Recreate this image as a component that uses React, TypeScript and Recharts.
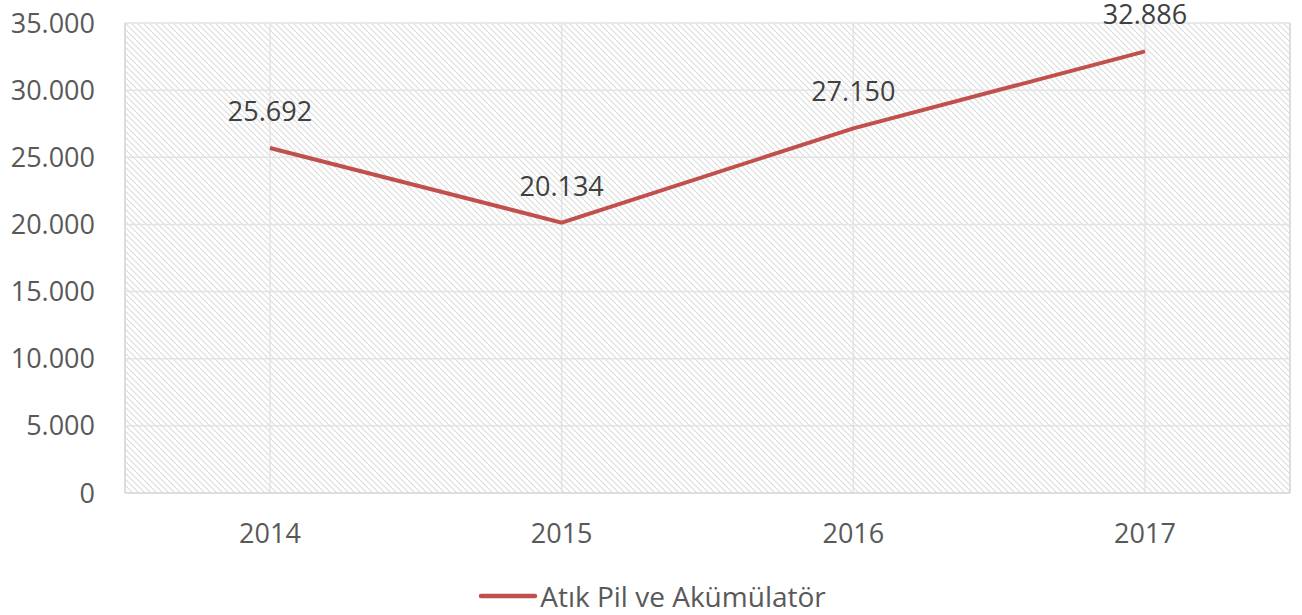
import { LineChart, Line, XAxis, YAxis, CartesianGrid, Legend, LabelList } from "recharts"

// ---- data ----
const years = ["2014", "2015", "2016", "2017"]
const values = [25692, 20134, 27150, 32886]
const yTicks = [0, 5000, 10000, 15000, 20000, 25000, 30000, 35000]
const seriesName = "Atık Pil ve Akümülatör"

const data = years.map((year, i) => ({ year, value: values[i] }))

const LINE_COLOR = "#c0504d"
const TEXT_COLOR = "#595959"
const FONT = "'Open Sans', 'DejaVu Sans', sans-serif"
const FONT_SIZE = 27

// Turkish style thousand separator: 35000 -> 35.000
const fmt = (v: number) => String(v).replace(/\B(?=(\d{3})+(?!\d))/g, ".")

function LegendContent() {
  return (
    <div style={{ display: "flex", justifyContent: "center", alignItems: "center", paddingTop: 12, paddingLeft: 14 }}>
      <svg width={60} height={10} style={{ marginRight: 2 }}>
        <line x1={3} y1={5} x2={57} y2={5} stroke={LINE_COLOR} strokeWidth={4.5} strokeLinecap="round" />
      </svg>
      <span style={{ fontFamily: FONT, fontSize: 28, color: TEXT_COLOR }}>{seriesName}</span>
    </div>
  )
}

// left/right edges of the plot area, so the plot gets a full frame
const plotEdges = ({ offset }: any) => [offset.left, offset.left + offset.width]

export default function App() {
  return (
    <div style={{ position: "absolute", left: 0, top: 0, width: 1302, height: 615, background: "#fff" }}>
      {/* hatch pattern shared by the plot background */}
      <svg width={0} height={0} style={{ position: "absolute" }}>
        <defs>
          <pattern id="hatch" width={6} height={6} patternUnits="userSpaceOnUse">
            <path d="M0,0 L6,6 M-1,5 L1,7 M5,-1 L7,1" stroke="#dcdcdc" strokeWidth={1.2} />
          </pattern>
        </defs>
      </svg>
      <LineChart width={1302} height={615} data={data} margin={{ top: 23, right: 12, left: 0, bottom: 0 }}>
        <CartesianGrid stroke="#e3e3e3" strokeWidth={1.5} fill="url(#hatch)" fillOpacity={1} />
        <CartesianGrid
          stroke="#d9d9d9"
          strokeWidth={1.5}
          horizontal={false}
          verticalCoordinatesGenerator={plotEdges}
        />
        <XAxis
          dataKey="year"
          padding={{ left: 145, right: 145 }}
          height={72}
          tickLine={false}
          axisLine={{ stroke: "#d9d9d9", strokeWidth: 1.5 }}
          tickMargin={25}
          tick={{ fill: TEXT_COLOR, fontSize: FONT_SIZE, fontFamily: FONT }}
        />
        <YAxis
          width={125}
          domain={[0, 35000]}
          ticks={yTicks}
          tickFormatter={fmt}
          tickLine={false}
          axisLine={false}
          tickMargin={24}
          tick={{ fill: TEXT_COLOR, fontSize: FONT_SIZE, fontFamily: FONT }}
        />
        <Legend verticalAlign="bottom" height={50} content={<LegendContent />} />
        <Line
          type="linear"
          dataKey="value"
          name={seriesName}
          stroke={LINE_COLOR}
          strokeWidth={4}
          dot={false}
          activeDot={false}
          isAnimationActive={false}
        >
          <LabelList
            dataKey="value"
            position="top"
            offset={27}
            formatter={(v: any) => fmt(Number(v))}
            style={{ fill: "#404040", fontSize: FONT_SIZE, fontFamily: FONT }}
          />
        </Line>
      </LineChart>
    </div>
  )
}
